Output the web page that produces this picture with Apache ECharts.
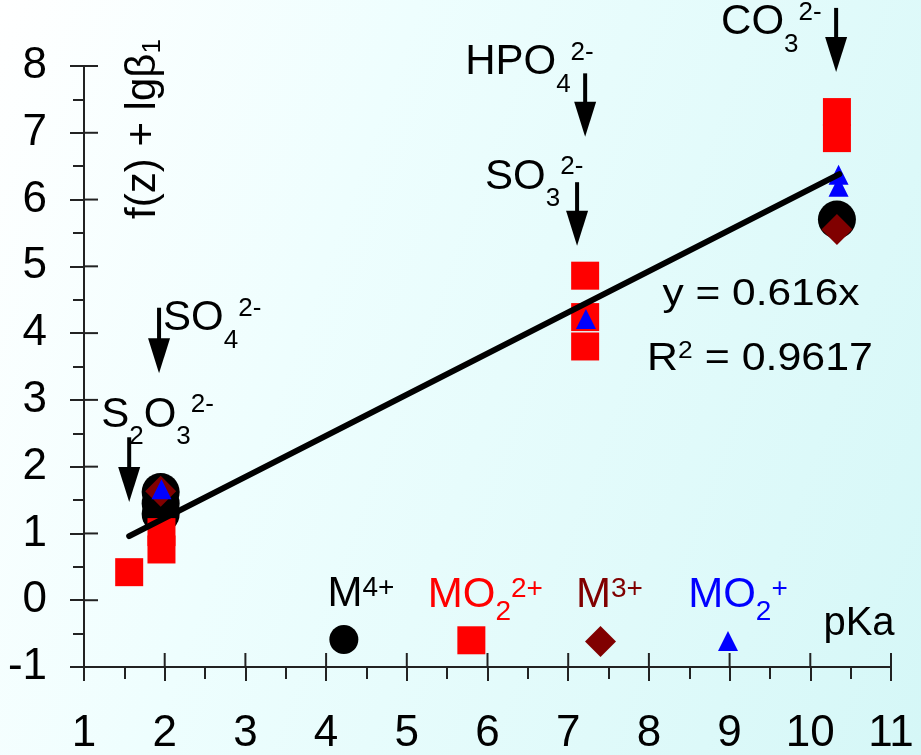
<!DOCTYPE html>
<html><head><meta charset="utf-8">
<script src="https://cdn.jsdelivr.net/npm/echarts@6/dist/echarts.min.js"></script>
<style>
html,body{margin:0;padding:0;}
#c{width:921px;height:755px;background:linear-gradient(110deg,#ffffff 0%,#eefefe 35%,#d5f7f7 100%);}
</style>
</head><body><div id="c"></div>
<script>
// ---------- data ----------
const m4X   = [1.95, 1.95, 1.95, 10.33];
const m4Y   = [1.62, 1.45, 1.29, 5.70];
const mo22X = [1.56, 1.96, 1.96, 7.21, 7.21, 7.21, 10.33, 10.33];
const mo22Y = [0.42, 0.76, 1.02, 4.86, 4.24, 3.80, 7.31, 6.92];
const m3X   = [1.95, 10.33];
const m3Y   = [1.63, 5.55];
const mo2X  = [1.96, 7.22, 10.35, 10.35];
const mo2Y  = [1.66, 4.21, 6.37, 6.19];

const legendLabels = ['{m|M}{p|4+}', '{m|MO}{b|2}{p|2+}', '{m|M}{p|3+}', '{m|MO}{b|2}{p|+}'];
const legendX = [4.22, 5.80, 7.40, 8.98];
const legendY = [-0.59, -0.60, -0.62, -0.61];

const fitX = [1.56, 10.36];
const fitY = [0.96, 6.38];

const anionLabels = ['{n|S}{b|2}{n|O}{b|3}{p|2-}', '{n|SO}{b|4}{p|2-}', '{n|SO}{b|3}{p|2-}', '{n|HPO}{b|4}{p|2-}', '{n|CO}{b|3}{p|2-}'];
const anionX   = [1.56, 1.93, 7.11, 7.21, 10.32];
const anionTop = [2.44, 4.38, 6.26, 7.89, 8.87];
const anionTip = [1.47, 3.40, 5.31, 6.94, 7.91];

// major tick values (the inner half of the crossing ticks is drawn from these)
const xTickVals = [1, 2, 3, 4, 5, 6, 7, 8, 9, 10, 11];
const yTickVals = [-1, 0, 1, 2, 3, 4, 5, 6, 7, 8];

const yTitle = '{m|f(z) + lgβ}{s|1}';
const eqLine1 = 'y = 0.616x';
const eqLine2 = '{r|R}{s|2}{r| = 0.9617}';
const xName = 'pKa';

// ---------- layout / style ----------
const F = "'Liberation Sans', Arial, sans-serif";
const legendLabelOffset = [[17, -45], [14, -45], [9, -46], [10, -46]];
const anionLabelOffset = [[-28, -7], [4, 26], [-92, 10], [-120, 4], [-115, 30]];
const AX = '#222';
const TICK = 14;

function pts(xs, ys) { return xs.map((x, i) => [x, ys[i]]); }
function legendRich(color) {
  return {
    m: {fontSize: 42, fontFamily: F, lineHeight: 60, color: color},
    b: {fontSize: 28, fontFamily: F, lineHeight: 60, padding: [34, 0, 0, 0], color: color},
    p: {fontSize: 28, fontFamily: F, lineHeight: 60, padding: [0, 0, 12, 0], color: color}
  };
}
function legendPoint(i, size, color) {
  return {
    value: [legendX[i], legendY[i]],
    symbolSize: size,
    label: {
      show: true, position: 'inside', offset: legendLabelOffset[i],
      formatter: legendLabels[i], color: color, textBorderWidth: 0,
      align: 'center', verticalAlign: 'middle',
      rich: legendRich(color)
    }
  };
}
function scatter(name, xs, ys, symbol, size, color, li, lsize) {
  return {
    name: name, type: 'scatter', symbol: symbol, symbolSize: size,
    itemStyle: {color: color, opacity: 1}, silent: true, z: 2,
    data: pts(xs, ys).concat([legendPoint(li, lsize, color)])
  };
}
const anionRich = {
  n: {fontSize: 42, fontFamily: F, lineHeight: 60, fill: '#000', color: '#000'},
  b: {fontSize: 26, fontFamily: F, lineHeight: 60, padding: [44, 0, 0, 0], fill: '#000', color: '#000'},
  p: {fontSize: 26, fontFamily: F, lineHeight: 60, padding: [0, 0, 20, 0], fill: '#000', color: '#000'}
};
// inner ticks: drawn at axis positions obtained from the axis scales
function innerTickSeries(name, data, dir) {
  return {
    name: name, type: 'custom', clip: false, silent: true, z: 3,
    data: data, encode: {x: 0, y: 1},
    renderItem: function (params, api) {
      const p = api.coord([api.value(0), api.value(1)]);
      const q = dir === 'x' ? [p[0], p[1] - TICK] : [p[0] + TICK, p[1]];
      return {type: 'line', shape: {x1: p[0], y1: p[1], x2: q[0], y2: q[1]},
              style: {stroke: AX, lineWidth: 2}};
    }
  };
}

const chart = echarts.init(document.getElementById('c'), null, {renderer: 'canvas'});
const lineStyleAx = {color: AX, width: 2};

chart.setOption({
  backgroundColor: 'transparent',
  animation: false,
  grid: {left: 84, right: 30, top: 66, bottom: 88, containLabel: false, outerBoundsMode: 'none'},
  xAxis: {
    type: 'value', min: 1, max: 11, interval: 1, position: 'bottom',
    splitLine: {show: false}, minorSplitLine: {show: false},
    axisLine: {show: true, onZero: false, lineStyle: lineStyleAx},
    axisTick: {show: true, inside: false, length: TICK, lineStyle: lineStyleAx},
    minorTick: {show: true, splitNumber: 2, length: 12, lineStyle: lineStyleAx},
    axisLabel: {show: true, margin: 45, fontSize: 44, fontFamily: F, color: '#000'}
  },
  yAxis: {
    type: 'value', min: -1, max: 8, interval: 1, position: 'left',
    splitLine: {show: false}, minorSplitLine: {show: false},
    axisLine: {show: true, onZero: false, lineStyle: lineStyleAx},
    axisTick: {show: true, inside: false, length: TICK, lineStyle: lineStyleAx},
    minorTick: {show: true, splitNumber: 2, length: 11, lineStyle: lineStyleAx},
    axisLabel: {show: true, margin: 37, fontSize: 44, fontFamily: F, color: '#000'}
  },
  graphic: [
    {type: 'text', x: 143, y: 129, rotation: Math.PI / 2, silent: true,
     style: {text: yTitle, align: 'center', verticalAlign: 'middle',
       rich: {m: {fontSize: 42, fontFamily: F, lineHeight: 60, fill: '#000'},
              s: {fontSize: 26, fontFamily: F, lineHeight: 60, padding: [20, 0, 0, 0], fill: '#000'}}}},
    {type: 'text', x: 761, y: 295, scaleX: 1.18, silent: true,
     style: {text: eqLine1, fontSize: 36, fontFamily: F, fill: '#000', align: 'center', verticalAlign: 'middle'}},
    {type: 'text', x: 760, y: 359, scaleX: 1.1, silent: true,
     style: {text: eqLine2, align: 'center', verticalAlign: 'middle',
       rich: {r: {fontSize: 39, fontFamily: F, lineHeight: 60, fill: '#000'},
              s: {fontSize: 24, fontFamily: F, lineHeight: 60, padding: [0, 0, 16, 0], fill: '#000'}}}},
    {type: 'text', x: 859, y: 624, silent: true,
     style: {text: xName, fontSize: 40, fontFamily: F, fill: '#000', align: 'center', verticalAlign: 'middle'}}
  ],
  series: [
    scatter('M4+', m4X, m4Y, 'circle', 38, '#000000', 0, 29),
    scatter('MO2 2+', mo22X, mo22Y, 'rect', 28, '#ff0000', 1, 28),
    scatter('M3+', m3X, m3Y, 'diamond', 31, '#800000', 2, 31),
    scatter('MO2+', mo2X, mo2Y, 'triangle', 20, '#0000ff', 3, 20),
    innerTickSeries('xInnerTicks', xTickVals.map(v => [v, yTickVals[0]]), 'x'),
    innerTickSeries('yInnerTicks', yTickVals.map(v => [xTickVals[0], v]), 'y'),
    {
      name: 'fit', type: 'line', data: pts(fitX, fitY), symbol: 'none', silent: true, z: 3,
      lineStyle: {color: '#000', width: 6, cap: 'round'}
    },
    {
      name: 'anions', type: 'custom', clip: false, silent: true, z: 4,
      data: anionX.map((x, i) => [x, anionTop[i], anionTip[i]]),
      encode: {x: 0, y: [1, 2]},
      renderItem: function (params, api) {
        const i = params.dataIndex;
        const top = api.coord([api.value(0), api.value(1)]);
        const tip = api.coord([api.value(0), api.value(2)]);
        const headL = 35, headW = 11;
        const off = anionLabelOffset[i];
        return {
          type: 'group',
          children: [
            {type: 'line', shape: {x1: top[0], y1: top[1], x2: tip[0], y2: tip[1] - headL + 2},
             style: {stroke: '#000', lineWidth: 4}},
            {type: 'polygon', shape: {points: [[tip[0] - headW, tip[1] - headL], [tip[0] + headW, tip[1] - headL], [tip[0], tip[1]]]},
             style: {fill: '#000'}},
            {type: 'text', x: top[0] + off[0], y: top[1] + off[1] - 15,
             style: {text: anionLabels[i], align: 'left', verticalAlign: 'middle', fill: '#000', rich: anionRich}}
          ]
        };
      }
    }
  ]
});
</script>
</body></html>
